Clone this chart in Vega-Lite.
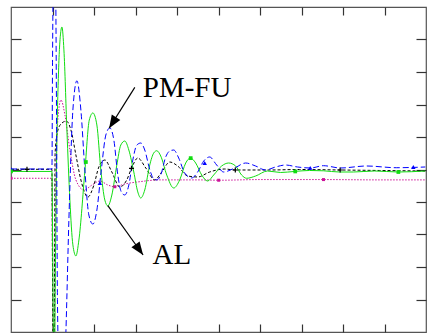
{
  "$schema": "https://vega.github.io/schema/vega-lite/v6.json",
  "width": 415,
  "height": 325,
  "autosize": "none",
  "padding": {"left": 11, "top": 7, "right": 3, "bottom": 1},
  "background": "white",
  "config": {
    "view": {"stroke": "#555", "strokeWidth": 1.2},
    "axis": {"labels": false, "domain": false, "grid": false, "ticks": true, "tickColor": "#333", "tickWidth": 1.2, "title": null}
  },
  "datasets": {
    "curves": [
      {"s": "PM-FU", "t": 0, "v": 0.015}, {"s": "PM-FU", "t": 0.986, "v": 0.015}, {"s": "PM-FU", "t": 1.001, "v": 3.37}, {"s": "PM-FU", "t": 1.022, "v": 6.45}, {"s": "PM-FU", "t": 1.046, "v": 7.37}, {"s": "PM-FU", "t": 1.07, "v": 6.45}, {"s": "PM-FU", "t": 1.095, "v": 2.14}, {"s": "PM-FU", "t": 1.119, "v": -4.0}, {"s": "PM-FU", "t": 1.191, "v": -7.7}, {"s": "PM-FU", "t": 1.263, "v": -7.09}, {"s": "PM-FU", "t": 1.323, "v": -5.0}, {"s": "PM-FU", "t": 1.395, "v": -1.55}, {"s": "PM-FU", "t": 1.491, "v": 1.83}, {"s": "PM-FU", "t": 1.588, "v": 2.73}, {"s": "PM-FU", "t": 1.684, "v": 1.83}, {"s": "PM-FU", "t": 1.78, "v": -0.015}, {"s": "PM-FU", "t": 1.876, "v": -1.4}, {"s": "PM-FU", "t": 1.973, "v": -1.68}, {"s": "PM-FU", "t": 2.069, "v": -1.25}, {"s": "PM-FU", "t": 2.177, "v": 0}, {"s": "PM-FU", "t": 2.285, "v": 1.06}, {"s": "PM-FU", "t": 2.381, "v": 1.28}, {"s": "PM-FU", "t": 2.478, "v": 0.91}, {"s": "PM-FU", "t": 2.574, "v": -0.17}, {"s": "PM-FU", "t": 2.658, "v": -0.69}, {"s": "PM-FU", "t": 2.742, "v": -0.785}, {"s": "PM-FU", "t": 2.839, "v": -0.48}, {"s": "PM-FU", "t": 2.935, "v": 0.29}, {"s": "PM-FU", "t": 3.031, "v": 0.75}, {"s": "PM-FU", "t": 3.127, "v": 0.815}, {"s": "PM-FU", "t": 3.223, "v": 0.6}, {"s": "PM-FU", "t": 3.343, "v": 0}, {"s": "PM-FU", "t": 3.44, "v": -0.29}, {"s": "PM-FU", "t": 3.512, "v": -0.32}, {"s": "PM-FU", "t": 3.608, "v": -0.17}, {"s": "PM-FU", "t": 3.728, "v": 0.385}, {"s": "PM-FU", "t": 3.825, "v": 0.57}, {"s": "PM-FU", "t": 3.921, "v": 0.6}, {"s": "PM-FU", "t": 4.041, "v": 0.354}, {"s": "PM-FU", "t": 4.185, "v": -0.108}, {"s": "PM-FU", "t": 4.354, "v": -0.26}, {"s": "PM-FU", "t": 4.499, "v": -0.077}, {"s": "PM-FU", "t": 4.643, "v": 0.26}, {"s": "PM-FU", "t": 4.787, "v": 0.385}, {"s": "PM-FU", "t": 4.956, "v": 0.138}, {"s": "PM-FU", "t": 5.124, "v": -0.077}, {"s": "PM-FU", "t": 5.388, "v": 0.046}, {"s": "PM-FU", "t": 5.653, "v": 0.2}, {"s": "PM-FU", "t": 5.893, "v": 0.108}, {"s": "PM-FU", "t": 6.134, "v": -0.015}, {"s": "PM-FU", "t": 6.374, "v": 0.077}, {"s": "PM-FU", "t": 6.615, "v": 0.138}, {"s": "PM-FU", "t": 6.904, "v": 0.077}, {"s": "PM-FU", "t": 7.217, "v": 0.046}, {"s": "PM-FU", "t": 7.53, "v": 0.117}, {"s": "PM-FU", "t": 7.94, "v": 0.046}, {"s": "PM-FU", "t": 8.564, "v": 0.108}, {"s": "PM-FU", "t": 9.285, "v": 0.055}, {"s": "PM-FU", "t": 9.983, "v": 0.077},

      {"s": "AL", "t": 0, "v": -0.06}, {"s": "AL", "t": 0.986, "v": -0.06}, {"s": "AL", "t": 1.005, "v": -2.48}, {"s": "AL", "t": 1.025, "v": -5.86}, {"s": "AL", "t": 1.042, "v": -7.09}, {"s": "AL", "t": 1.07, "v": -3.03}, {"s": "AL", "t": 1.102, "v": 0.6}, {"s": "AL", "t": 1.143, "v": 2.91}, {"s": "AL", "t": 1.191, "v": 4.14}, {"s": "AL", "t": 1.227, "v": 4.385}, {"s": "AL", "t": 1.275, "v": 3.68}, {"s": "AL", "t": 1.347, "v": 1.22}, {"s": "AL", "t": 1.419, "v": -0.94}, {"s": "AL", "t": 1.491, "v": -2.32}, {"s": "AL", "t": 1.564, "v": -2.66}, {"s": "AL", "t": 1.636, "v": -2.17}, {"s": "AL", "t": 1.78, "v": -0.05}, {"s": "AL", "t": 1.886, "v": 1.52}, {"s": "AL", "t": 1.973, "v": 1.74}, {"s": "AL", "t": 2.069, "v": 1.37}, {"s": "AL", "t": 2.165, "v": -0.015}, {"s": "AL", "t": 2.261, "v": -0.94}, {"s": "AL", "t": 2.333, "v": -1.12}, {"s": "AL", "t": 2.43, "v": -0.785}, {"s": "AL", "t": 2.55, "v": 0.138}, {"s": "AL", "t": 2.646, "v": 0.754}, {"s": "AL", "t": 2.742, "v": 0.877}, {"s": "AL", "t": 2.839, "v": 0.6}, {"s": "AL", "t": 2.959, "v": -0.077}, {"s": "AL", "t": 3.055, "v": -0.69}, {"s": "AL", "t": 3.127, "v": -0.877}, {"s": "AL", "t": 3.223, "v": -0.63}, {"s": "AL", "t": 3.343, "v": 0.138}, {"s": "AL", "t": 3.44, "v": 0.51}, {"s": "AL", "t": 3.512, "v": 0.578}, {"s": "AL", "t": 3.608, "v": 0.415}, {"s": "AL", "t": 3.753, "v": -0.17}, {"s": "AL", "t": 3.921, "v": -0.57}, {"s": "AL", "t": 4.065, "v": -0.32}, {"s": "AL", "t": 4.21, "v": 0.2}, {"s": "AL", "t": 4.323, "v": 0.354}, {"s": "AL", "t": 4.45, "v": 0.2}, {"s": "AL", "t": 4.595, "v": -0.17}, {"s": "AL", "t": 4.739, "v": -0.354}, {"s": "AL", "t": 4.883, "v": -0.17}, {"s": "AL", "t": 5.076, "v": 0.108}, {"s": "AL", "t": 5.244, "v": 0.2}, {"s": "AL", "t": 5.412, "v": 0.108}, {"s": "AL", "t": 5.557, "v": -0.17}, {"s": "AL", "t": 5.677, "v": -0.27}, {"s": "AL", "t": 5.894, "v": -0.2}, {"s": "AL", "t": 6.182, "v": -0.046}, {"s": "AL", "t": 6.495, "v": -0.092}, {"s": "AL", "t": 6.832, "v": -0.06}, {"s": "AL", "t": 7.193, "v": -0.03}, {"s": "AL", "t": 7.53, "v": -0.04}, {"s": "AL", "t": 7.914, "v": -0.077}, {"s": "AL", "t": 8.251, "v": -0.077}, {"s": "AL", "t": 8.757, "v": -0.046}, {"s": "AL", "t": 9.334, "v": -0.077}, {"s": "AL", "t": 9.983, "v": -0.046},

      {"s": "C", "t": 0, "v": 0.006}, {"s": "C", "t": 0.986, "v": 0.006}, {"s": "C", "t": 0.996, "v": -2.05}, {"s": "C", "t": 1.01, "v": -5.25}, {"s": "C", "t": 1.03, "v": -5.86}, {"s": "C", "t": 1.046, "v": -4.02}, {"s": "C", "t": 1.063, "v": 0.51}, {"s": "C", "t": 1.119, "v": 1.15}, {"s": "C", "t": 1.203, "v": 1.4}, {"s": "C", "t": 1.335, "v": 1.49}, {"s": "C", "t": 1.443, "v": 1.22}, {"s": "C", "t": 1.564, "v": 0.446}, {"s": "C", "t": 1.684, "v": -0.32}, {"s": "C", "t": 1.852, "v": -0.846}, {"s": "C", "t": 1.997, "v": -0.48}, {"s": "C", "t": 2.117, "v": 0.077}, {"s": "C", "t": 2.261, "v": 0.292}, {"s": "C", "t": 2.43, "v": -0.077}, {"s": "C", "t": 2.622, "v": -0.54}, {"s": "C", "t": 2.79, "v": -0.32}, {"s": "C", "t": 2.904, "v": 0.037}, {"s": "C", "t": 3.055, "v": 0.354}, {"s": "C", "t": 3.248, "v": 0.046}, {"s": "C", "t": 3.464, "v": -0.32}, {"s": "C", "t": 3.632, "v": -0.077}, {"s": "C", "t": 3.825, "v": 0.23}, {"s": "C", "t": 4.017, "v": 0.108}, {"s": "C", "t": 4.258, "v": -0.2}, {"s": "C", "t": 4.499, "v": -0.23}, {"s": "C", "t": 4.787, "v": -0.077}, {"s": "C", "t": 5.148, "v": 0.015}, {"s": "C", "t": 5.405, "v": -0.015}, {"s": "C", "t": 6.23, "v": -0.015}, {"s": "C", "t": 6.952, "v": 0}, {"s": "C", "t": 7.931, "v": -0.015}, {"s": "C", "t": 8.877, "v": -0.03}, {"s": "C", "t": 9.983, "v": -0.046},

      {"s": "D", "t": 0, "v": -0.27}, {"s": "D", "t": 0.986, "v": -0.27}, {"s": "D", "t": 0.998, "v": -2.78}, {"s": "D", "t": 1.015, "v": -5.86}, {"s": "D", "t": 1.034, "v": -6.17}, {"s": "D", "t": 1.053, "v": -4.02}, {"s": "D", "t": 1.078, "v": -0.63}, {"s": "D", "t": 1.119, "v": 1.37}, {"s": "D", "t": 1.203, "v": 2.14}, {"s": "D", "t": 1.299, "v": 1.68}, {"s": "D", "t": 1.419, "v": 0.6}, {"s": "D", "t": 1.564, "v": -0.32}, {"s": "D", "t": 1.756, "v": -0.63}, {"s": "D", "t": 1.949, "v": -0.48}, {"s": "D", "t": 2.141, "v": -0.354}, {"s": "D", "t": 2.333, "v": -0.477}, {"s": "D", "t": 2.502, "v": -0.53}, {"s": "D", "t": 2.742, "v": -0.446}, {"s": "D", "t": 3.103, "v": -0.375}, {"s": "D", "t": 3.584, "v": -0.32}, {"s": "D", "t": 4.546, "v": -0.32}, {"s": "D", "t": 5.004, "v": -0.33}, {"s": "D", "t": 5.99, "v": -0.31}, {"s": "D", "t": 7.53, "v": -0.31}, {"s": "D", "t": 8.877, "v": -0.32}, {"s": "D", "t": 9.983, "v": -0.32}
    ],
    "markers": [
      {"s": "PM-FU", "t": 0, "v": 0.015}, {"s": "PM-FU", "t": 2.141, "v": -0.415}, {"s": "PM-FU", "t": 4.667, "v": 0.2}, {"s": "PM-FU", "t": 7.21, "v": 0.05}, {"s": "PM-FU", "t": 9.694, "v": 0.077},
      {"s": "AL", "t": 0, "v": -0.06}, {"s": "AL", "t": 1.804, "v": 0.23}, {"s": "AL", "t": 4.33, "v": 0.35}, {"s": "AL", "t": 6.849, "v": -0.06}, {"s": "AL", "t": 9.334, "v": -0.077},
      {"s": "C", "t": 0.385, "v": 0.006}, {"s": "C", "t": 2.904, "v": 0.037}, {"s": "C", "t": 5.405, "v": -0.015}, {"s": "C", "t": 7.931, "v": -0.015},
      {"s": "D", "t": 0, "v": -0.27}, {"s": "D", "t": 2.502, "v": -0.53}, {"s": "D", "t": 5.004, "v": -0.33}, {"s": "D", "t": 7.53, "v": -0.31}
    ],
    "notes": [
      {"label": "PM-FU", "t": 3.175, "v": 2.24},
      {"label": "AL", "t": 3.409, "v": -2.917}
    ],
    "arrows": [
      {"label": "PM-FU", "t0": 2.983, "v0": 2.529, "t": 2.365, "v": 1.268, "ang": 212},
      {"label": "AL", "t0": 2.333, "v0": -1.114, "t": 3.183, "v": -2.631, "ang": 144.4}
    ]
  },
  "resolve": {"axis": {"x": "independent", "y": "independent"}},
  "layer": [
    {
      "data": {"name": "curves"},
      "transform": [{"filter": "datum.s === 'D'"}],
      "mark": {"type": "line", "clip": true, "interpolate": "monotone", "color": "#cc1199", "strokeWidth": 1, "strokeDash": [1.5, 1.5]},
      "encoding": {
        "x": {"field": "t", "type": "quantitative", "scale": {"domain": [0, 10]}, "axis": {"orient": "bottom", "values": [1, 2, 3, 4, 5, 6, 7, 8, 9], "tickSize": -8}},
        "y": {"field": "v", "type": "quantitative", "scale": {"domain": [-5, 5]}, "axis": {"orient": "left", "values": [-4, -3, -2, -1, 0, 1, 2, 3, 4], "tickSize": -10}}
      }
    },
    {
      "data": {"name": "curves"},
      "transform": [{"filter": "datum.s === 'C'"}],
      "mark": {"type": "line", "clip": true, "interpolate": "monotone", "color": "#000000", "strokeWidth": 1, "strokeDash": [3, 2]},
      "encoding": {
        "x": {"field": "t", "type": "quantitative", "scale": {"domain": [0, 10]}, "axis": {"orient": "top", "values": [1, 2, 3, 4, 5, 6, 7, 8, 9], "tickSize": -8}},
        "y": {"field": "v", "type": "quantitative", "scale": {"domain": [-5, 5]}, "axis": {"orient": "right", "values": [-4, -3, -2, -1, 0, 1, 2, 3, 4], "tickSize": -10}}
      }
    },
    {
      "data": {"name": "curves"},
      "transform": [{"filter": "datum.s === 'AL'"}],
      "mark": {"type": "line", "clip": true, "interpolate": "monotone", "color": "#11dd11", "strokeWidth": 1},
      "encoding": {
        "x": {"field": "t", "type": "quantitative", "scale": {"domain": [0, 10]}, "axis": null},
        "y": {"field": "v", "type": "quantitative", "scale": {"domain": [-5, 5]}, "axis": null}
      }
    },
    {
      "data": {"name": "curves"},
      "transform": [{"filter": "datum.s === 'PM-FU'"}],
      "mark": {"type": "line", "clip": true, "interpolate": "monotone", "color": "#0000ff", "strokeWidth": 1, "strokeDash": [6, 3]},
      "encoding": {
        "x": {"field": "t", "type": "quantitative", "scale": {"domain": [0, 10]}, "axis": null},
        "y": {"field": "v", "type": "quantitative", "scale": {"domain": [-5, 5]}, "axis": null}
      }
    },
    {
      "data": {"name": "markers"},
      "transform": [{"filter": "datum.s === 'PM-FU'"}],
      "mark": {"type": "point", "shape": "triangle-up", "filled": true, "color": "#0000ff", "size": 20, "opacity": 1, "clip": true},
      "encoding": {
        "x": {"field": "t", "type": "quantitative", "scale": {"domain": [0, 10]}, "axis": null},
        "y": {"field": "v", "type": "quantitative", "scale": {"domain": [-5, 5]}, "axis": null}
      }
    },
    {
      "data": {"name": "markers"},
      "transform": [{"filter": "datum.s === 'AL'"}],
      "mark": {"type": "point", "shape": "square", "filled": true, "color": "#11dd11", "size": 14, "opacity": 1, "clip": true},
      "encoding": {
        "x": {"field": "t", "type": "quantitative", "scale": {"domain": [0, 10]}, "axis": null},
        "y": {"field": "v", "type": "quantitative", "scale": {"domain": [-5, 5]}, "axis": null}
      }
    },
    {
      "data": {"name": "markers"},
      "transform": [{"filter": "datum.s === 'C'"}],
      "mark": {"type": "point", "shape": "M-1,0L1,0M0,-1L0,1", "filled": false, "color": "#000000", "strokeWidth": 1.2, "size": 25, "opacity": 1, "clip": true},
      "encoding": {
        "x": {"field": "t", "type": "quantitative", "scale": {"domain": [0, 10]}, "axis": null},
        "y": {"field": "v", "type": "quantitative", "scale": {"domain": [-5, 5]}, "axis": null}
      }
    },
    {
      "data": {"name": "markers"},
      "transform": [{"filter": "datum.s === 'D'"}],
      "mark": {"type": "point", "shape": "square", "filled": true, "color": "#cc1199", "size": 9, "opacity": 1, "clip": true},
      "encoding": {
        "x": {"field": "t", "type": "quantitative", "scale": {"domain": [0, 10]}, "axis": null},
        "y": {"field": "v", "type": "quantitative", "scale": {"domain": [-5, 5]}, "axis": null}
      }
    },
    {
      "data": {"name": "arrows"},
      "mark": {"type": "rule", "color": "#000000", "strokeWidth": 1.2},
      "encoding": {
        "x": {"field": "t0", "type": "quantitative", "scale": {"domain": [0, 10]}, "axis": null},
        "y": {"field": "v0", "type": "quantitative", "scale": {"domain": [-5, 5]}, "axis": null},
        "x2": {"field": "t"},
        "y2": {"field": "v"}
      }
    },
    {
      "data": {"name": "arrows"},
      "mark": {"type": "point", "shape": "M0,0L0.85,2.2L-0.85,2.2Z", "filled": true, "color": "#000000", "size": 140, "opacity": 1},
      "encoding": {
        "x": {"field": "t", "type": "quantitative", "scale": {"domain": [0, 10]}, "axis": null},
        "y": {"field": "v", "type": "quantitative", "scale": {"domain": [-5, 5]}, "axis": null},
        "angle": {"field": "ang", "type": "quantitative", "scale": null}
      }
    },
    {
      "data": {"name": "notes"},
      "mark": {"type": "text", "font": "Liberation Serif", "fontSize": 29, "align": "left", "baseline": "alphabetic", "color": "#000000"},
      "encoding": {
        "x": {"field": "t", "type": "quantitative", "scale": {"domain": [0, 10]}, "axis": null},
        "y": {"field": "v", "type": "quantitative", "scale": {"domain": [-5, 5]}, "axis": null},
        "text": {"field": "label"}
      }
    }
  ]
}
